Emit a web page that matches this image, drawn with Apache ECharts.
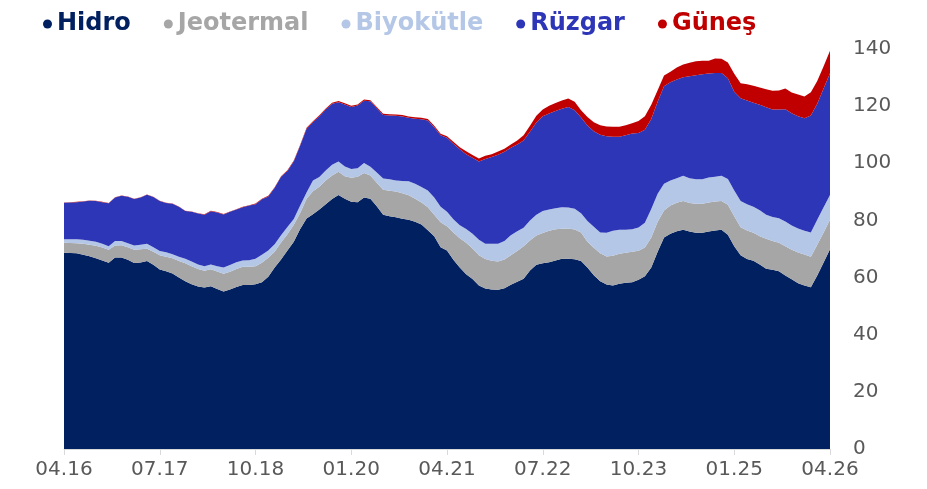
<!DOCTYPE html>
<html lang="tr">

<head>
    <meta charset="UTF-8">
    <title>Yenilenebilir kurulu güç</title>
    <script src="https://cdn.jsdelivr.net/npm/echarts@6/dist/echarts.min.js"></script>
    <style>
        html, body { margin: 0; padding: 0; background: #fff; }
    </style>
</head>

<body>
    <div id="myChart" style="width: 927px; height: 489px;"></div>
    <script>
        // aylar: 04.16 - 04.26
        const months = [];
        for (let i = 0; i <= 120; i++) {
            const m = (3 + i) % 12 + 1;
            const y = 16 + Math.floor((3 + i) / 12);
            months.push(String(m).padStart(2, '0') + '.' + String(y).padStart(2, '0'));
        }

        const hidro = [
            68.7, 68.6, 68.5, 68.0, 67.5, 66.8, 66.0, 65.2, 67.0, 67.0,
            66.2, 65.1, 65.3, 65.8, 64.5, 62.8, 62.2, 61.4, 60.0, 58.7,
            57.7, 56.9, 56.5, 57.0, 56.0, 55.1, 55.8, 56.7, 57.4, 57.4,
            57.7, 58.4, 60.3, 63.5, 66.3, 69.5, 72.5, 77.0, 80.7, 82.2,
            83.8, 85.7, 87.5, 88.9, 87.6, 86.5, 86.4, 88.0, 87.6, 85.0,
            82.0, 81.5, 81.1, 80.6, 80.2, 79.5, 78.6, 76.6, 74.5, 70.6,
            69.5, 66.2, 63.5, 61.2, 59.5, 57.2, 56.2, 55.8, 55.7, 56.3,
            57.5, 58.5, 59.6, 62.5, 64.5, 65.0, 65.4, 66.0, 66.6, 66.6,
            66.4, 65.8, 63.5, 60.8, 58.7, 57.6, 57.2, 57.8, 58.2, 58.4,
            59.2, 60.5, 63.5, 69.0, 74.0, 75.3, 76.2, 76.7, 76.1, 75.7,
            75.7, 76.1, 76.5, 76.7, 75.0, 71.0, 67.8, 66.5, 65.9, 64.6,
            63.1, 62.7, 62.2, 60.7, 59.4, 58.0, 57.2, 56.6, 60.7, 65.3,
            69.9
        ];
        const jeotermal = [
            3.5, 3.5, 3.5, 3.8, 4.0, 4.3, 4.5, 4.5, 4.2, 4.3,
            4.4, 4.6, 4.6, 4.3, 4.5, 5.0, 5.1, 5.4, 5.8, 6.3,
            6.3, 6.1, 5.9, 5.9, 6.1, 6.2, 6.2, 6.3, 6.4, 6.4,
            6.3, 6.8, 6.6, 5.5, 6.0, 5.7, 6.0, 5.6, 6.9, 8.0,
            8.0, 8.3, 8.2, 8.1, 7.9, 8.4, 8.9, 8.6, 8.1, 8.2,
            8.7, 8.9, 9.0, 8.9, 8.6, 8.1, 7.7, 8.0, 7.5, 8.8,
            8.5, 9.6, 10.3, 11.0, 10.7, 10.6, 10.3, 10.1, 9.9, 10.0,
            10.3, 10.8, 11.4, 10.5, 10.2, 10.6, 11.0, 10.9, 10.5, 10.6,
            10.4, 10.0, 9.0, 9.6, 9.8, 9.8, 10.4, 10.5, 10.5, 10.6,
            10.2, 10.0, 10.5, 10.5, 9.5, 9.9, 10.0, 10.1, 10.0, 10.1,
            10.1, 10.2, 10.1, 10.1, 10.5, 10.5, 9.8, 10.0, 9.8, 9.9,
            10.5, 10.1, 10.0, 10.3, 10.3, 10.8, 10.9, 10.7, 10.8, 10.5,
            10.3
        ];
        const biyokutle = [
            1.2, 1.3, 1.4, 1.4, 1.4, 1.4, 1.3, 1.3, 1.6, 1.5,
            1.4, 1.5, 1.6, 1.7, 1.6, 1.5, 1.6, 1.4, 1.5, 1.6,
            1.6, 1.6, 1.6, 1.7, 1.9, 2.2, 2.4, 2.4, 2.2, 2.3,
            2.6, 2.8, 2.6, 2.7, 2.5, 2.5, 2.0, 2.6, 2.2, 3.8,
            3.4, 3.5, 3.8, 3.6, 3.4, 3.1, 3.0, 3.5, 3.1, 3.6,
            4.0, 4.0, 3.9, 4.3, 4.9, 5.2, 5.4, 5.9, 6.0, 5.4,
            5.0, 4.6, 4.5, 4.8, 5.1, 5.4, 5.3, 5.9, 6.2, 6.5,
            7.0, 6.9, 6.4, 7.0, 7.3, 7.7, 7.4, 7.4, 7.5, 7.3,
            7.3, 6.7, 7.3, 7.4, 7.3, 8.3, 8.8, 8.4, 8.0, 7.9,
            8.1, 8.7, 10.0, 9.8, 9.3, 8.8, 8.6, 8.8, 8.7, 8.6,
            8.6, 8.7, 8.7, 8.8, 9.0, 9.0, 9.2, 9.2, 9.1, 9.1,
            8.4, 8.4, 8.6, 8.6, 8.5, 8.4, 8.3, 8.5, 8.7, 8.8,
            8.7
        ];
        const ruzgar = [
            12.8, 12.9, 13.0, 13.4, 14.0, 14.3, 14.6, 15.0, 15.2, 15.8,
            16.3, 16.3, 16.5, 17.2, 17.6, 17.5, 17.2, 17.6, 17.5, 16.7,
            17.4, 17.8, 18.0, 18.6, 18.8, 18.6, 18.6, 18.4, 18.6, 19.1,
            19.1, 19.4, 18.9, 19.7, 20.5, 19.6, 20.2, 21.0, 22.3, 20.4,
            21.3, 21.3, 21.3, 20.8, 21.7, 21.7, 21.9, 21.8, 22.9, 22.5,
            22.2, 22.3, 22.6, 22.6, 22.2, 22.8, 23.7, 24.5, 24.6, 25.0,
            25.9, 26.4, 26.6, 26.2, 26.6, 27.4, 29.7, 30.4, 31.2, 31.2,
            30.6, 30.4, 30.6, 31.0, 32.3, 33.2, 33.6, 34.0, 34.5, 35.2,
            34.5, 33.5, 33.4, 33.4, 34.2, 33.8, 32.9, 32.6, 33.1, 33.5,
            33.1, 32.5, 31.5, 32.2, 34.2, 34.4, 34.5, 34.5, 35.7, 36.4,
            36.8, 36.4, 36.3, 36.0, 35.3, 34.5, 36.0, 36.3, 36.4, 36.9,
            37.6, 37.6, 38.0, 39.3, 39.3, 39.3, 39.4, 40.9, 40.6, 41.6,
            42.6
        ];
        const gunes = [
            0.1, 0.1, 0.1, 0.1, 0.1, 0.1, 0.1, 0.1, 0.1, 0.1,
            0.1, 0.1, 0.1, 0.1, 0.1, 0.1, 0.1, 0.1, 0.1, 0.1,
            0.15, 0.15, 0.15, 0.15, 0.15, 0.15, 0.15, 0.15, 0.15, 0.15,
            0.2, 0.2, 0.2, 0.2, 0.2, 0.3, 0.3, 0.3, 0.3, 0.3,
            0.3, 0.4, 0.4, 0.4, 0.4, 0.4, 0.4, 0.4, 0.4, 0.4,
            0.4, 0.5, 0.5, 0.5, 0.5, 0.5, 0.5, 0.5, 0.5, 0.5,
            0.6, 0.7, 0.7, 1.0, 1.0, 1.1, 1.1, 1.0, 1.1, 1.1,
            1.2, 1.4, 1.8, 2.1, 2.3, 2.3, 2.7, 2.8, 2.9, 3.0,
            2.9, 2.6, 3.0, 3.2, 3.3, 3.4, 3.5, 3.5, 3.5, 3.6,
            4.2, 4.8, 5.0, 4.1, 3.7, 3.6, 4.2, 4.5, 4.7, 4.9,
            4.7, 4.5, 5.1, 5.0, 5.5, 6.3, 5.2, 5.7, 5.9, 6.0,
            6.3, 6.6, 6.7, 7.3, 7.3, 7.6, 7.6, 8.2, 8.0, 7.8,
            7.9
        ];

        const names = ['Hidro', 'Jeotermal', 'Biyokütle', 'Rüzgar', 'Güneş'];
        const colors = ['#002060', '#a6a6a6', '#b4c7e7', '#2e36b8', '#c00000'];
        const values = [hidro, jeotermal, biyokutle, ruzgar, gunes];

        const myChart = echarts.init(document.getElementById('myChart'));

        const option = {
            animation: false,
            textStyle: { fontFamily: 'DejaVu Sans' },
            legend: {
                left: 38,
                top: 7,
                itemWidth: 9,
                itemHeight: 9,
                itemGap: 33,
                icon: 'circle',
                textStyle: { fontSize: 24, fontWeight: 'bold', fontFamily: 'DejaVu Sans' },
                // her yazı kendi renginde
                data: names.map((n, i) => ({ name: n, textStyle: { color: colors[i] } }))
            },
            grid: { left: 64, right: 97, top: 49, bottom: 40 },
            xAxis: {
                type: 'category',
                data: months,
                boundaryGap: false,
                axisLine: { lineStyle: { color: '#d9d9d9', width: 1 } },
                axisTick: { interval: 14, length: 6, lineStyle: { color: '#d9d9d9' } },
                axisLabel: { interval: 14, fontSize: 20, color: '#595959', margin: 11 }
            },
            yAxis: {
                type: 'value',
                position: 'right',
                min: 0,
                max: 140,
                interval: 20,
                splitLine: { show: false },
                axisLine: { show: false },
                axisTick: { show: false },
                axisLabel: { fontSize: 20, color: '#595959', margin: 23 }
            },
            series: names.map((n, i) => ({
                name: n,
                type: 'line',
                stack: 'toplam',
                data: values[i],
                showSymbol: false,
                color: colors[i],
                lineStyle: { width: 0 },
                areaStyle: { color: colors[i], opacity: 1 }
            }))
        };
        myChart.setOption(option);
    </script>
</body>

</html>
